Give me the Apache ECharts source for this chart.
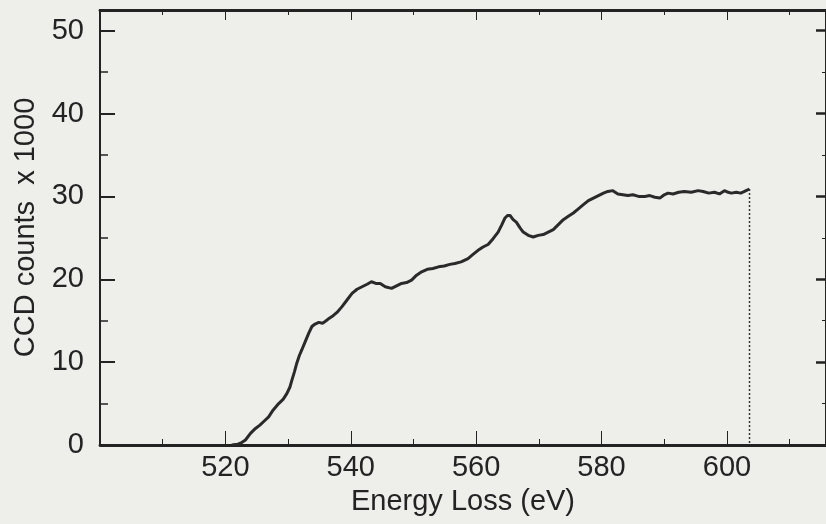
<!DOCTYPE html>
<html>
<head>
<meta charset="utf-8">
<script src="https://cdn.jsdelivr.net/npm/echarts@6/dist/echarts.min.js"></script>
<style>
html,body{margin:0;padding:0;background:#eeefeb;}
#chart{width:826px;height:524px;}
</style>
</head>
<body>
<div id="chart"></div>
<script>
const energy = [521.0,522.0,522.6,523.2,524.0,524.8,525.5,526.2,526.9,527.6,528.5,529.2,529.8,530.3,530.6,531.0,531.4,531.8,532.2,532.8,533.3,533.8,534.3,534.9,535.5,535.9,536.4,537.0,537.8,538.6,539.4,540.2,541.0,541.8,542.6,543.3,544.0,544.7,545.5,546.5,547.3,548.1,548.9,549.7,550.5,551.3,552.2,553.1,554.0,554.9,555.8,556.6,557.6,558.7,559.5,560.3,561.1,561.9,562.7,563.5,564.1,564.6,565.0,565.4,565.9,566.4,567.0,567.5,568.3,569.1,569.9,570.7,571.5,572.3,573.1,573.9,574.7,575.5,576.3,577.1,577.9,578.7,579.5,580.3,581.0,581.8,582.6,583.4,584.2,585.0,585.9,586.9,587.7,588.5,589.3,590.0,590.6,591.4,592.3,593.2,594.3,595.4,596.2,597.1,598.0,598.8,599.6,600.2,600.7,601.5,602.2,602.8,603.6];
const counts = [0.0,0.1,0.3,0.6,1.4,2.0,2.4,2.9,3.4,4.2,5.0,5.5,6.2,7.0,7.8,8.8,9.9,10.8,11.5,12.6,13.5,14.3,14.6,14.8,14.7,14.9,15.2,15.5,16.0,16.7,17.5,18.3,18.8,19.1,19.4,19.7,19.5,19.5,19.1,18.9,19.2,19.5,19.6,19.9,20.5,20.9,21.2,21.3,21.5,21.6,21.8,21.9,22.1,22.5,23.0,23.5,23.9,24.2,24.9,25.7,26.6,27.4,27.7,27.7,27.2,26.9,26.2,25.7,25.3,25.1,25.3,25.4,25.7,26.0,26.6,27.2,27.6,28.0,28.5,29.0,29.5,29.8,30.1,30.4,30.6,30.7,30.3,30.2,30.1,30.2,30.0,30.0,30.1,29.9,29.8,30.2,30.4,30.3,30.5,30.6,30.5,30.7,30.6,30.4,30.5,30.3,30.7,30.5,30.4,30.5,30.4,30.6,30.9];
const cutoffEnergy = 603.6;
const cutoffLine = [[cutoffEnergy, 30.9],[cutoffEnergy, 0]];
const xTickLabels = ['520','540','560','580','600'];
const yTickLabels = ['0','10','20','30','40','50'];
const xTitle = 'Energy Loss (eV)';
const yTitle = 'CCD counts  x 1000';

const ink = '#232323';
const font = 'Liberation Sans, Arial, Helvetica, sans-serif';
const chart = echarts.init(document.getElementById('chart'), null, {renderer:'canvas'});
const baseX = {
  type:'value', min:500, max:615.8, interval:20,
  axisLine:{show:true, onZero:false, lineStyle:{color:ink, width:2.8}},
  splitLine:{show:false},
  minorTick:{show:true, splitNumber:2, length:6, lineStyle:{color:ink, width:1}},
};
const baseY = {
  type:'value', min:0, max:52.5, interval:10,
  axisLine:{show:true, onZero:false, lineStyle:{color:ink, width:2}},
  splitLine:{show:false},
  minorTick:{show:true, splitNumber:2, length:8, lineStyle:{color:ink, width:1.5}},
};
chart.setOption({
  backgroundColor:'#eeefeb',
  animation:false,
  grid:{left:100, top:10, width:727, height:435},
  xAxis:[
    Object.assign({}, baseX, {
      position:'bottom',
      name:xTitle, nameLocation:'middle', nameGap:42,
      nameTextStyle:{fontFamily:font, fontSize:29, color:ink},
      axisTick:{show:true, inside:true, length:14, lineStyle:{color:ink, width:1}},
      axisLabel:{show:true, margin:8, fontFamily:font, fontSize:29, color:ink, showMaxLabel:false,
        formatter: v => xTickLabels.includes(String(v)) ? String(v) : ''}
    }),
    Object.assign({}, baseX, {
      position:'top',
      axisTick:{show:true, inside:true, length:10, lineStyle:{color:ink, width:1}},
      minorTick:{show:true, splitNumber:2, length:5, lineStyle:{color:ink, width:1}},
      axisLabel:{show:false}
    })
  ],
  yAxis:[
    Object.assign({}, baseY, {
      position:'left',
      name:yTitle, nameLocation:'middle', nameGap:60, nameRotate:90,
      nameTextStyle:{fontFamily:font, fontSize:29, color:ink},
      axisTick:{show:true, inside:true, length:15, lineStyle:{color:ink, width:2}},
      axisLabel:{show:true, margin:16, fontFamily:font, fontSize:29, color:ink,
        formatter: v => yTickLabels.includes(String(v)) ? String(v) : ''}
    }),
    Object.assign({}, baseY, {
      position:'right',
      axisTick:{show:true, inside:true, length:10, lineStyle:{color:ink, width:2.5}},
      minorTick:{show:true, splitNumber:2, length:4, lineStyle:{color:ink, width:1}},
      axisLabel:{show:false}
    })
  ],
  series:[
    {type:'line', xAxisIndex:0, yAxisIndex:0, showSymbol:false, smooth:false,
     data: energy.map((e,i)=>[e, counts[i]]),
     lineStyle:{color:'#2a2a2a', width:3}},
    {type:'line', xAxisIndex:0, yAxisIndex:0, showSymbol:false,
     data: cutoffLine,
     lineStyle:{color:'#333', width:1.5, type:[2,2]}}
  ]
});
</script>
</body>
</html>
